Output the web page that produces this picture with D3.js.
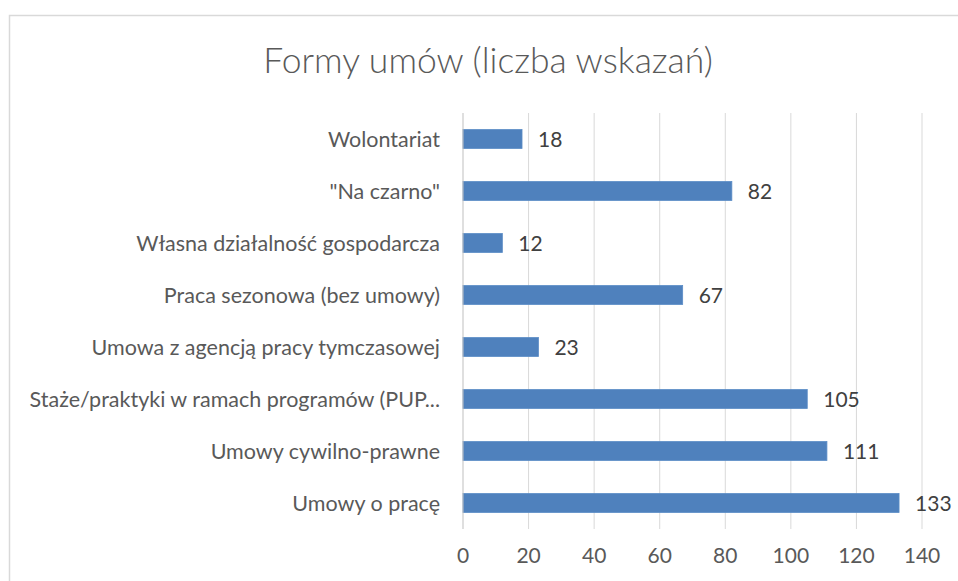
<!DOCTYPE html>
<html>
<head>
<meta charset="utf-8">
<script src="https://cdn.jsdelivr.net/npm/d3@7"></script>
<style>
  body { margin: 0; background: #fff; }
  text { font-family: Lato, "Open Sans", sans-serif; fill: #595959; }
</style>
</head>
<body>
<div id="chart"></div>
<script>
// data, top to bottom as drawn
var categories = [
  "Wolontariat",
  "\"Na czarno\"",
  "Własna działalność gospodarcza",
  "Praca sezonowa (bez umowy)",
  "Umowa z agencją pracy tymczasowej",
  "Staże/praktyki w ramach programów (PUP...",
  "Umowy cywilno-prawne",
  "Umowy o pracę"
];
var values = [18, 82, 12, 67, 23, 105, 111, 133];
var xTicks = [0, 20, 40, 60, 80, 100, 120, 140];

var width = 958, height = 581;

var svg = d3.select("#chart")
    .append("svg")
    .attr("width", width)
    .attr("height", height);

// chart frame
svg.append("rect")
    .attr("x", 9.5)
    .attr("y", 15.5)
    .attr("width", 1000)
    .attr("height", 1000)
    .style("fill", "none")
    .style("stroke", "#d9d9d9")
    .style("stroke-width", 1.5);

svg.append("text")
    .attr("x", 488)
    .attr("y", 73)
    .attr("text-anchor", "middle")
    .style("font-size", "35.5px")
    .style("font-weight", 300)
    .text("Formy umów (liczba wskazań)");

var x = d3.scaleLinear().domain([0, 140]).range([463, 922]);
var y = d3.scaleBand().domain(categories).range([113, 529]).paddingInner(0.635).paddingOuter(0.3175);

// vertical gridlines
svg.selectAll("line.grid")
    .data(xTicks.slice(1))
    .enter().append("line")
    .attr("class", "grid")
    .attr("x1", function(d) { return x(d); })
    .attr("x2", function(d) { return x(d); })
    .attr("y1", 113)
    .attr("y2", 529)
    .style("stroke", "#d9d9d9")
    .style("stroke-width", 1);

// x tick labels
svg.selectAll("text.xt")
    .data(xTicks)
    .enter().append("text")
    .attr("class", "xt")
    .attr("x", function(d) { return x(d); })
    .attr("y", 563)
    .attr("text-anchor", "middle")
    .style("font-size", "21px")
    .text(function(d) { return d; });

// bars
svg.selectAll("rect.bar")
    .data(values)
    .enter().append("rect")
    .attr("class", "bar")
    .attr("x", x(0))
    .attr("y", function(d, i) { return y(categories[i]); })
    .attr("width", function(d) { return x(d) - x(0); })
    .attr("height", y.bandwidth())
    .style("fill", "#4f81bd")
    .style("stroke", "#5b8cc6")
    .style("stroke-width", 0.8);

// value labels
svg.selectAll("text.val")
    .data(values)
    .enter().append("text")
    .attr("class", "val")
    .attr("x", function(d) { return x(d) + 16; })
    .attr("y", function(d, i) { return y(categories[i]) + y.bandwidth() / 2; })
    .attr("dy", "0.36em")
    .style("font-size", "21px")
    .style("fill", "#404040")
    .text(function(d) { return d; });

// category labels
svg.selectAll("text.cat")
    .data(categories)
    .enter().append("text")
    .attr("class", "cat")
    .attr("x", 440)
    .attr("y", function(d) { return y(d) + y.bandwidth() / 2; })
    .attr("dy", "0.36em")
    .attr("text-anchor", "end")
    .style("font-size", "21.5px")
    .text(function(d) { return d; });

// vertical axis line
svg.append("line")
    .attr("x1", x(0))
    .attr("x2", x(0))
    .attr("y1", 113)
    .attr("y2", 529)
    .style("stroke", "#bfbfbf")
    .style("stroke-width", 1);
</script>
</body>
</html>
